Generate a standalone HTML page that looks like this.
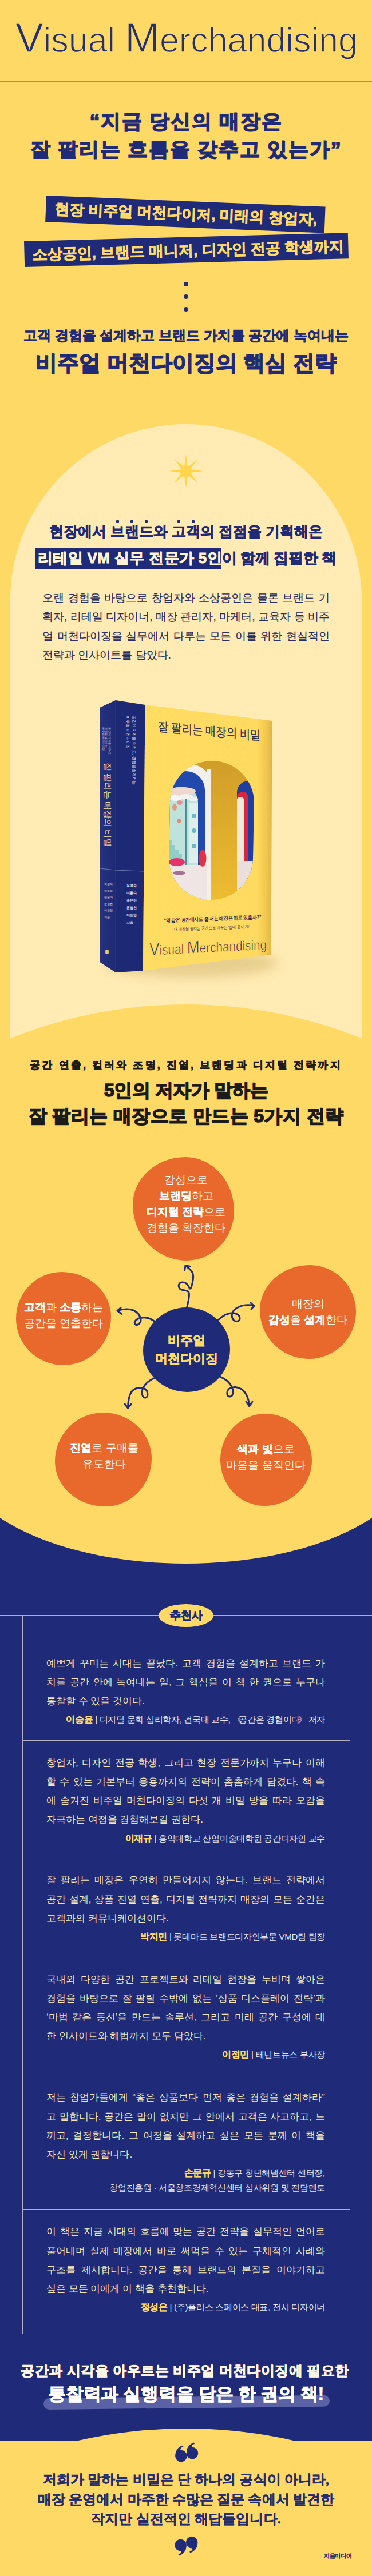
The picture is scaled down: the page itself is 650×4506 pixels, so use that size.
<!DOCTYPE html>
<html lang="ko">
<head>
<meta charset="utf-8">
<title>Visual Merchandising</title>
<style>
html,body{margin:0;padding:0}
body{width:650px;height:4506px;position:relative;overflow:hidden;background:#FFD966;font-family:"Liberation Sans",sans-serif;color:#1F2B78}
.a{position:absolute}
.t{position:absolute;white-space:nowrap}
.c{left:0;width:650px;text-align:center}
.b{font-weight:bold}
.navy{color:#1F2B78}
.hv{-webkit-text-stroke:1.7px currentColor}
.em{position:relative}.em::after{content:'';position:absolute;left:50%;top:-5.5px;width:5.5px;height:5.5px;margin-left:-2.75px;border-radius:50%;background:#1F2B78}
.jl{text-align:justify;text-align-last:justify;white-space:nowrap}.jl.last{text-align-last:left}
.blob{background:#E8692B}
.ctext{text-align:center;font-size:19px;line-height:28px;color:#FFF6E8}
.ctext b{-webkit-text-stroke:0.4px #fff;color:#fff}
.ln{background:#B2AEBE}
.tm{left:81px;width:487px;font-size:17px;line-height:33.2px;color:#F3E5B5}
.at{text-align:right;font-size:15px;line-height:33.2px;color:#E9E8EF;letter-spacing:-0.3px;margin-top:-1px;white-space:nowrap}
.at b{color:#FFDA60;font-size:16px;-webkit-text-stroke:0.3px #FFDA60}
.hv2{-webkit-text-stroke:0.9px currentColor}
</style>
</head>
<body>
<!-- ===== HEADER ===== -->
<div class="t" id="title" style="left:27px;top:31px;font-size:61px;line-height:70px;color:#24306F;-webkit-text-stroke:1.4px #FFD966"><span style="font-size:73px">V</span>isual <span style="font-size:73px">M</span>erchandising</div>
<div class="a" style="left:0;top:141px;width:650px;height:2px;background:#A39457"></div>

<div class="t c b hv" id="q1" style="top:194px;font-size:35px;line-height:35px;letter-spacing:1.8px">“지금 당신의 매장은</div>
<div class="t c b hv" id="q2" style="top:243px;font-size:35px;line-height:35px;letter-spacing:1.85px">잘 팔리는 흐름을 갖추고 있는가”</div>

<!-- tilted labels -->
<div class="a" id="lb1" style="left:81px;top:342px;width:488px;height:46px;background:#1F2B78;transform:rotate(2.3deg);transform-origin:0 0">
  <div class="t b hv2" style="left:15px;top:9px;font-size:26px;line-height:26px;color:#FFD966">현장 비주얼 머천다이저, 미래의 창업자,</div>
</div>
<div class="a" id="lb2" style="left:42px;top:422px;width:566px;height:45px;background:#1F2B78;transform:rotate(-1.5deg);transform-origin:0 0">
  <div class="t b hv2" style="left:14px;top:10px;font-size:26px;line-height:26px;color:#FFD966">소상공인, 브랜드 매니저, 디자인 전공 학생까지</div>
</div>

<!-- dots -->
<div class="a" style="left:321px;top:493px;width:8px;height:8px;border-radius:50%;background:#1F2B78"></div>
<div class="a" style="left:321px;top:515px;width:8px;height:8px;border-radius:50%;background:#1F2B78"></div>
<div class="a" style="left:321px;top:537px;width:8px;height:8px;border-radius:50%;background:#1F2B78"></div>

<div class="t c b hv2" id="h1" style="top:575px;font-size:24px;line-height:24px">고객 경험을 설계하고 브랜드 가치를 공간에 녹여내는</div>
<div class="t c b hv" id="h2" style="top:616px;font-size:37.5px;line-height:38px">비주얼 머천다이징의 핵심 전략</div>

<!-- ===== CREAM ARCH ===== -->
<div class="a" id="arch" style="left:18px;top:742px;width:614px;height:1100px;background:#FFEBB3;border-radius:307px 307px 0 0"></div>
<!-- star -->
<svg class="a" style="left:290px;top:789px" width="70" height="70" viewBox="-35 -35 70 70">
<polygon fill="#FFD54A" points="0.00,-29.00 3.06,-7.39 20.51,-20.51 7.39,-3.06 29.00,0.00 7.39,3.06 20.51,20.51 3.06,7.39 0.00,29.00 -3.06,7.39 -20.51,20.51 -7.39,3.06 -29.00,0.00 -7.39,-3.06 -20.51,-20.51 -3.06,-7.39"/>
</svg>
<div class="t c b hv2" id="c1" style="top:916.5px;font-size:25px;line-height:25px">현장에서 <span class="em">브</span><span class="em">랜</span><span class="em">드</span>와 <span class="em">고</span><span class="em">객</span>의 접점을 기획해온</div>
<div class="a" style="left:61px;top:959px;width:325px;height:36px;background:#1F2B78"></div>
<div class="t b hv2" id="c2" style="left:66px;top:963px;font-size:26px;line-height:26px"><span style="color:#FFF3D2;letter-spacing:0.35px">리테일 VM 실무 전문가 5인</span><span style="letter-spacing:-0.4px">이 함께 집필한 책</span></div>
<div class="a" id="para" style="left:74px;top:1028.5px;width:502px;font-size:19px;line-height:33.5px;color:#2A2F63;-webkit-text-stroke:0.25px #2A2F63"><div class="jl">오랜 경험을 바탕으로 창업자와 소상공인은 물론 브랜드 기</div><div class="jl">획자, 리테일 디자이너, 매장 관리자, 마케터, 교육자 등 비주</div><div class="jl">얼 머천다이징을 실무에서 다루는 모든 이를 위한 현실적인</div><div class="jl last">전략과 인사이트를 담았다.</div></div>
<!-- BOOK -->
<div class="a" style="left:185px;top:1660px;width:300px;height:50px;border-radius:50%;background:rgba(150,110,20,0.22);filter:blur(9px)"></div>
<svg class="a" style="left:0;top:1200px" width="650" height="520" viewBox="0 1200 650 520">
<defs>
<clipPath id="win"><rect x="296" y="1331" width="147" height="243" rx="73.5" ry="73.5" transform="rotate(1.2 369 1452)"/></clipPath>
<linearGradient id="cvg" x1="0" x2="1" y1="0" y2="0">
<stop offset="0" stop-color="#FFDC62"/><stop offset="0.88" stop-color="#FFDA60"/><stop offset="0.95" stop-color="#F2C94E"/><stop offset="1" stop-color="#E2B445"/></linearGradient>
<linearGradient id="spg" x1="0" x2="1" y1="0" y2="0"><stop offset="0" stop-color="#26327F"/><stop offset="1" stop-color="#1F2A74"/></linearGradient>
</defs>
<polygon points="174.5,1237.7 202,1225 202,1701 174.5,1683" fill="url(#spg)"/>
<polygon points="202,1225 253.5,1233 250,1698 202,1701" fill="#1E2975"/>
<polygon points="253.5,1233 475.5,1261 473.5,1670 250,1698" fill="url(#cvg)"/>
<line x1="202" y1="1225" x2="202" y2="1701" stroke="#2E3A8A" stroke-width="1"/>
<line x1="174.5" y1="1519" x2="202" y2="1522" stroke="#6A77B0" stroke-width="1"/>
<line x1="202" y1="1522" x2="251" y2="1524" stroke="#6A77B0" stroke-width="1"/>
<!-- window -->
<g clip-path="url(#win)">
<linearGradient id="gold" x1="0" x2="0" y1="0" y2="1"><stop offset="0" stop-color="#CF9C2A"/><stop offset="0.5" stop-color="#E0AC2C"/><stop offset="1" stop-color="#EDBD32"/></linearGradient>
<rect x="290" y="1320" width="160" height="260" fill="url(#gold)"/>
<rect x="298" y="1337" width="70" height="260" rx="35" fill="#F3F0EB"/>
<rect x="292" y="1349" width="66" height="250" rx="33" fill="#2149AE"/>
<rect x="286" y="1377" width="60" height="210" rx="26" fill="#BFE3DC"/>
<ellipse cx="318" cy="1384" rx="24" ry="7" fill="#EFD9CE"/>
<ellipse cx="306" cy="1396" rx="13" ry="5" fill="#F7F6F4"/><ellipse cx="325" cy="1394" rx="12" ry="5" fill="#F4F3F1"/><ellipse cx="338" cy="1398" rx="8" ry="4" fill="#EEF2F1"/>
<rect x="331" y="1405" width="15" height="105" fill="#DDEEEB"/>
<circle cx="339" cy="1427" r="4" fill="#6DB7BF"/><circle cx="339" cy="1453" r="4" fill="#6DB7BF"/><circle cx="339" cy="1480" r="4" fill="#6DB7BF"/>
<rect x="324" y="1398" width="3" height="118" fill="#4C8E96"/>
<path d="M290,1470 L300,1470 L300,1478 L306,1478 L306,1486 L312,1486 L312,1494 L318,1494 L318,1502 L290,1502 Z" fill="#8FCFC7"/>
<ellipse cx="305" cy="1412" rx="4" ry="6" fill="#D9A07A"/><ellipse cx="314" cy="1404" rx="5" ry="4" fill="#E98E9A"/><ellipse cx="313" cy="1436" rx="3" ry="4" fill="#E88A6A"/>
<rect x="286" y="1513" width="82" height="70" fill="#EEE5E4"/>
<ellipse cx="309" cy="1508" rx="14" ry="7" fill="#E8336A"/>
<ellipse cx="354" cy="1501" rx="6.5" ry="15" fill="#DE3445"/>
<ellipse cx="313" cy="1527" rx="11" ry="3.5" fill="#A27292"/>
<rect x="362" y="1345" width="6" height="240" fill="#F3F0EB"/>
<rect x="368" y="1320" width="47" height="260" fill="url(#gold)"/>
<rect x="414" y="1366" width="40" height="220" rx="20" fill="#1F3FA0"/>
<rect x="414" y="1385" width="20" height="200" rx="10" fill="#D8263A"/>
<rect x="414" y="1395" width="12" height="190" rx="4" fill="#F1E7DB"/>
<rect x="414" y="1506" width="30" height="70" fill="#E9E0DE"/>
</g>
</svg>
<div class="t" id="ctitle" style="left:276px;top:1259px;font-size:22px;line-height:24px;color:#2A2E52;transform:skewY(5deg) scaleX(0.83);transform-origin:0 0;-webkit-text-stroke:0.3px #2A2E52">잘 팔리는 매장의 비밀</div>
<div class="t b" style="left:286px;top:1605px;font-size:9px;line-height:10px;color:#2A2E52;transform:skewY(-2deg) scaleX(0.865);transform-origin:0 0;letter-spacing:-0.2px">“왜 같은 공간에서도 줄 서는 매장은 따로 있을까?”</div>
<div class="t" style="left:304px;top:1621px;font-size:7.5px;line-height:9px;color:#2A2E52;transform:skewY(-2deg) scaleX(0.8);transform-origin:0 0;letter-spacing:-0.2px">내 매장을 팔리는 공간으로 바꾸는 ‘절대 공식 20’</div>
<div class="t" id="cvm" style="left:261px;top:1645px;font-size:24px;line-height:31px;color:#2A2E52;transform:skewY(-2.9deg) scaleX(0.862);transform-origin:0 0;-webkit-text-stroke:0.7px #FFDA60"><span style="font-size:30.5px">V</span>isual <span style="font-size:30.5px">M</span>erchandising</div>
<!-- spine / band texts -->
<div class="t" style="left:196px;top:1334px;font-size:14.5px;line-height:16px;color:#F4E2A0;transform:rotate(90deg);transform-origin:0 0">잘 팔리는 매장의 비밀</div>
<div class="t" style="left:193.5px;top:1272px;font-size:4.5px;line-height:5.5px;color:#C9C6D8;transform:rotate(90deg);transform-origin:0 0">공간에 가치를 더하고,<br>경험을 설계하는<br>비주얼 머천다이징</div>
<div class="t" style="left:240px;top:1252px;font-size:6.8px;line-height:11px;color:#E8E6F0;transform:rotate(90deg);transform-origin:0 0">공간에 가치를 더하고, 경험을 설계하는<br>비주얼 머천다이징</div>
<div class="t b" style="left:182px;top:1541px;font-size:4.5px;line-height:11.5px;color:#B8B9D6">육경숙<br>이동숙<br>송은아<br>문정현<br>이인영<br>지음</div>
<div class="t b" style="left:221px;top:1543px;font-size:5.5px;line-height:13px;color:#E6E6F2">육경숙<br>이동숙<br>송은아<br>문정현<br>이인영<br>지음</div>
<div class="a" style="left:184px;top:1661px;width:6px;height:8px;border-radius:2px;background:#D8C070"></div>



<!-- yellow hill -->
<div class="a" style="left:-495px;top:1757px;width:1640px;height:1640px;border-radius:50%;background:#FFD966"></div>
<!-- ===== SECTION 2 ===== -->
<div class="t c b hv2" id="s1" style="top:1854px;font-size:18px;line-height:18px;letter-spacing:3.1px;color:#1B1B1B">공간 연출, 컬러와 조명, 진열, 브랜딩과 디지털 전략까지</div>
<div class="t c b hv" id="s2" style="top:1890.5px;font-size:32px;line-height:33px;letter-spacing:-0.5px;color:#1B1B1B">5인의 저자가 말하는</div>
<div class="t c b hv" id="s3" style="top:1936px;font-size:32px;line-height:33px;letter-spacing:0.4px;color:#1B1B1B">잘 팔리는 매장으로 만드는 5가지 전략</div>

<!-- navy bottom part + yellow ellipse -->
<div class="a" style="left:0;top:2560px;width:650px;height:1720px;background:#1F2B78"></div>
<div class="a" style="left:-75px;top:2351px;width:800px;height:384px;border-radius:50%;background:#FFD966"></div>

<!-- diagram -->
<div class="a blob" style="left:232px;top:2024px;width:177px;height:181px;border-radius:52% 48% 47% 53% / 46% 52% 48% 54%"></div>
<div class="a blob" style="left:28px;top:2224.5px;width:166px;height:163px;border-radius:48% 52% 50% 50% / 50% 48% 52% 50%"></div>
<div class="a blob" style="left:454px;top:2213px;width:168px;height:164px;border-radius:52% 48% 49% 51% / 48% 50% 50% 52%"></div>
<div class="a blob" style="left:96px;top:2471px;width:169px;height:164px;border-radius:50% 50% 48% 52% / 52% 49% 51% 48%"></div>
<div class="a blob" style="left:385px;top:2473px;width:160px;height:161px;border-radius:49% 51% 52% 48% / 50% 51% 49% 50%"></div>
<div class="a" style="left:250px;top:2287px;width:152px;height:148px;border-radius:50% 50% 49% 51% / 51% 49% 51% 49%;background:#1F2B78"></div>

<div class="t ctext" style="left:231.5px;top:2050px;width:187px">감성으로<br><b>브랜딩</b>하고<br><b>디지털 전략</b>으로<br>경험을 확장한다</div>
<div class="t ctext" style="left:28px;top:2273px;width:166px"><b>고객</b>과 <b>소통</b>하는<br>공간을 연출한다</div>
<div class="t ctext" style="left:454px;top:2267px;width:168px">매장의<br><b>감성</b>을 <b>설계</b>한다</div>
<div class="t ctext" style="left:99px;top:2519px;width:166px"><b>진열</b>로 구매를<br>유도한다</div>
<div class="t ctext" style="left:382px;top:2521px;width:165px"><b>색과 빛</b>으로<br>마음을 움직인다</div>
<div class="t b hv2" style="left:250px;top:2329px;width:152px;text-align:center;font-size:22px;line-height:31.5px;color:#FFD966">비주얼<br>머천다이징</div>

<svg class="a" style="left:0;top:2150px" width="650" height="400" viewBox="0 2150 650 400" fill="none" stroke="#1F2B78" stroke-width="3" stroke-linecap="round" stroke-linejoin="round">
<path d="M326,2290 C328,2280 332,2268 330,2261 C328,2255 318,2259 314,2254 C310,2249 313,2243 319,2243 C325,2243 329,2248 331,2253 C333,2257 335,2250 336,2245 C338,2237 339,2229 335,2224 C332,2220 328,2217 324.5,2214.5"/>
<path d="M322.5,2222.5 L324,2213.5 L332,2215.5"/>
<path d="M272,2313 C265,2307 256,2304 248,2305 C240,2306 233,2311 236,2316 C239,2320 246,2315 246,2309 C245,2301 240,2295 233,2292 C225,2289 214,2290 205.5,2292.5"/>
<path d="M211,2287.5 L205,2292.8 L212.5,2298.5"/>
<path d="M377,2314 C384,2305 393,2299 403,2297 C411,2296 419,2300 419,2306 C419,2312 412,2313 408,2309 C403,2303 405,2295 411,2290 C418,2284 430,2281 443.5,2284"/>
<path d="M438,2279 L444,2284.5 L439,2290"/>
<path d="M271,2410 C262,2414 255,2419 251,2426 C246,2434 248,2446 254,2445 C260,2444 259,2432 252,2429 C245,2426 236,2428 231,2433 C226,2439 224,2447 223.5,2462"/>
<path d="M218,2456 L223.5,2463 L229.5,2456"/>
<path d="M384,2408 C394,2412 402,2419 405.5,2427 C409,2436 406,2444 401,2443 C395,2442 396,2432 401,2429 C407,2425 416,2426 422,2430 C429,2435 434,2444 435.5,2458"/>
<path d="M430,2452 L435.6,2460 L441,2452"/>
</svg>
<!-- ===== NAVY TESTIMONIALS ===== -->
<div class="a ln" style="left:0;top:2825px;width:650px;height:1px"></div>
<div class="a ln" style="left:0;top:4082px;width:650px;height:1px"></div>
<div class="a ln" style="left:39px;top:2825px;width:1px;height:1258px"></div>
<div class="a ln" style="left:611px;top:2825px;width:1px;height:1258px"></div>
<div class="a ln" style="left:39px;top:3044.0px;width:573px;height:1px"></div>
<div class="a ln" style="left:39px;top:3250.5px;width:573px;height:1px"></div>
<div class="a ln" style="left:39px;top:3422.5px;width:573px;height:1px"></div>
<div class="a ln" style="left:39px;top:3628.5px;width:573px;height:1px"></div>
<div class="a ln" style="left:39px;top:3863.5px;width:573px;height:1px"></div>
<div class="a" style="left:277px;top:2806px;width:96px;height:40px;border-radius:50%;background:#FFD966"></div>
<div class="t b hv2" style="left:277px;top:2816px;width:96px;text-align:center;font-size:19px;line-height:20px;color:#1F2B78">추천사</div>
<div class="a tm" style="top:2892.8px"><div class="jl">예쁘게 꾸미는 시대는 끝났다. 고객 경험을 설계하고 브랜드 가</div><div class="jl">치를 공간 안에 녹여내는 일, 그 핵심을 이 책 한 권으로 누구나</div><div class="jl last">통찰할 수 있을 것이다.</div><div class="at"><b>이승윤</b> | 디지털 문화 심리학자, 건국대 교수, <span style="margin-right:-4px">《</span>공간은 경험이다<span style="margin-left:-3px;margin-right:-1px">》</span> 저자</div></div>
<div class="a tm" style="top:3066.8px"><div class="jl">창업자, 디자인 전공 학생, 그리고 현장 전문가까지 누구나 이해</div><div class="jl">할 수 있는 기본부터 응용까지의 전략이 촘촘하게 담겼다. 책 속</div><div class="jl">에 숨겨진 비주얼 머천다이징의 다섯 개 비밀 방을 따라 오감을</div><div class="jl last">자극하는 여정을 경험해보길 권한다.</div><div class="at"><b>이재규</b> | 홍익대학교 산업미술대학원 공간디자인 교수</div></div>
<div class="a tm" style="top:3272.3px"><div class="jl">잘 팔리는 매장은 우연히 만들어지지 않는다. 브랜드 전략에서</div><div class="jl">공간 설계, 상품 진열 연출, 디지털 전략까지 매장의 모든 순간은</div><div class="jl last">고객과의 커뮤니케이션이다.</div><div class="at"><b>박지민</b> | 롯데마트 브랜드디자인부문 VMD팀 팀장</div></div>
<div class="a tm" style="top:3445.6px"><div class="jl">국내외 다양한 공간 프로젝트와 리테일 현장을 누비며 쌓아온</div><div class="jl">경험을 바탕으로 잘 팔릴 수밖에 없는 ‘상품 디스플레이 전략’과</div><div class="jl">‘마법 같은 동선’을 만드는 솔루션, 그리고 미래 공간 구성에 대</div><div class="jl last">한 인사이트와 해법까지 모두 담았다.</div><div class="at"><b>이정민</b> | 테넌트뉴스 부사장</div></div>
<div class="a tm" style="top:3652.3px"><div class="jl">저는 창업가들에게 “좋은 상품보다 먼저 좋은 경험을 설계하라”</div><div class="jl">고 말합니다. 공간은 말이 없지만 그 안에서 고객은 사고하고, 느</div><div class="jl">끼고, 결정합니다. 그 여정을 설계하고 싶은 모든 분께 이 책을</div><div class="jl last">자신 있게 권합니다.</div><div class="at"><b>손문규</b> | 강동구 청년해냄센터 센터장,<div style="margin-top:-7.5px">창업진흥원 · 서울창조경제혁신센터 심사위원 및 전담멘토</div></div></div>
<div class="a tm" style="top:3887.3px"><div class="jl">이 책은 지금 시대의 흐름에 맞는 공간 전략을 실무적인 언어로</div><div class="jl">풀어내며 실제 매장에서 바로 써먹을 수 있는 구체적인 사례와</div><div class="jl">구조를 제시합니다. 공간을 통해 브랜드의 본질을 이야기하고</div><div class="jl last">싶은 모든 이에게 이 책을 추천합니다.</div><div class="at"><b>정성은</b> | (주)플러스 스페이스 대표, 전시 디자이너</div></div>
<div class="a" style="left:75.5px;top:4195px;width:500px;height:20px;border-radius:10px;background:#5A61A4;transform:rotate(-0.6deg);transform-origin:0 50%"></div>
<div class="t c b hv2" id="f1" style="top:4134.5px;left:-2px;font-size:24px;line-height:24px;letter-spacing:0.45px;color:#FFF7E6">공간과 시각을 아우르는 비주얼 머천다이징에 필요한</div>
<div class="t c b hv2" id="f2" style="top:4171.5px;font-size:31px;line-height:31px;letter-spacing:-0.3px;color:#FFFFFF">통찰력과 실행력을 담은 한 권의 책!</div>
<!-- ===== FINAL ===== -->
<div class="a" style="left:0;top:4269.5px;width:650px;height:240px;background:#FFD966"></div>
<div class="a" style="left:-524px;top:4247.5px;width:1698px;height:1698px;border-radius:50%;background:#FFD966"></div>
<svg class="a" style="left:0;top:4260px" width="650" height="230" viewBox="0 4260 650 230" fill="#1F2B78"><g><circle cx="316.4" cy="4296.0" r="10.3"/><path d="M306.4,4294.0 C306.9,4285.0 312.4,4280.0 319.4,4277.5 L320.4,4279.5 C315.4,4282.0 313.4,4284.5 317.4,4286.0 Z"/><circle cx="336.0" cy="4291.0" r="10.3"/><path d="M326.0,4289.0 C326.5,4280.0 332.0,4275.0 339.0,4272.5 L340.0,4274.5 C335.0,4277.0 333.0,4279.5 337.0,4281.0 Z"/></g><g transform="rotate(180 325.8 4371.5)"><circle cx="316.4" cy="4296.0" r="10.3"/><path d="M306.4,4294.0 C306.9,4285.0 312.4,4280.0 319.4,4277.5 L320.4,4279.5 C315.4,4282.0 313.4,4284.5 317.4,4286.0 Z"/><circle cx="336.0" cy="4291.0" r="10.3"/><path d="M326.0,4289.0 C326.5,4280.0 332.0,4275.0 339.0,4272.5 L340.0,4274.5 C335.0,4277.0 333.0,4279.5 337.0,4281.0 Z"/></g></svg>
<div class="a c b" id="fin" style="top:4320px;font-size:23.8px;line-height:34.7px;letter-spacing:0.1px;color:#232C6E;font-family:'Liberation Serif',serif;-webkit-text-stroke:0.5px #232C6E;white-space:nowrap">저희가 말하는 비밀은 단 하나의 공식이 아니라,<br>매장 운영에서 마주한 수많은 질문 속에서 발견한<br>작지만 실전적인 해답들입니다.</div>
<div class="t b" style="left:566px;top:4466px;font-size:9.5px;line-height:10px;color:#2A2F6E;letter-spacing:-0.3px;-webkit-text-stroke:0.3px #2A2F6E">지음미디어</div>



</body>
</html>
